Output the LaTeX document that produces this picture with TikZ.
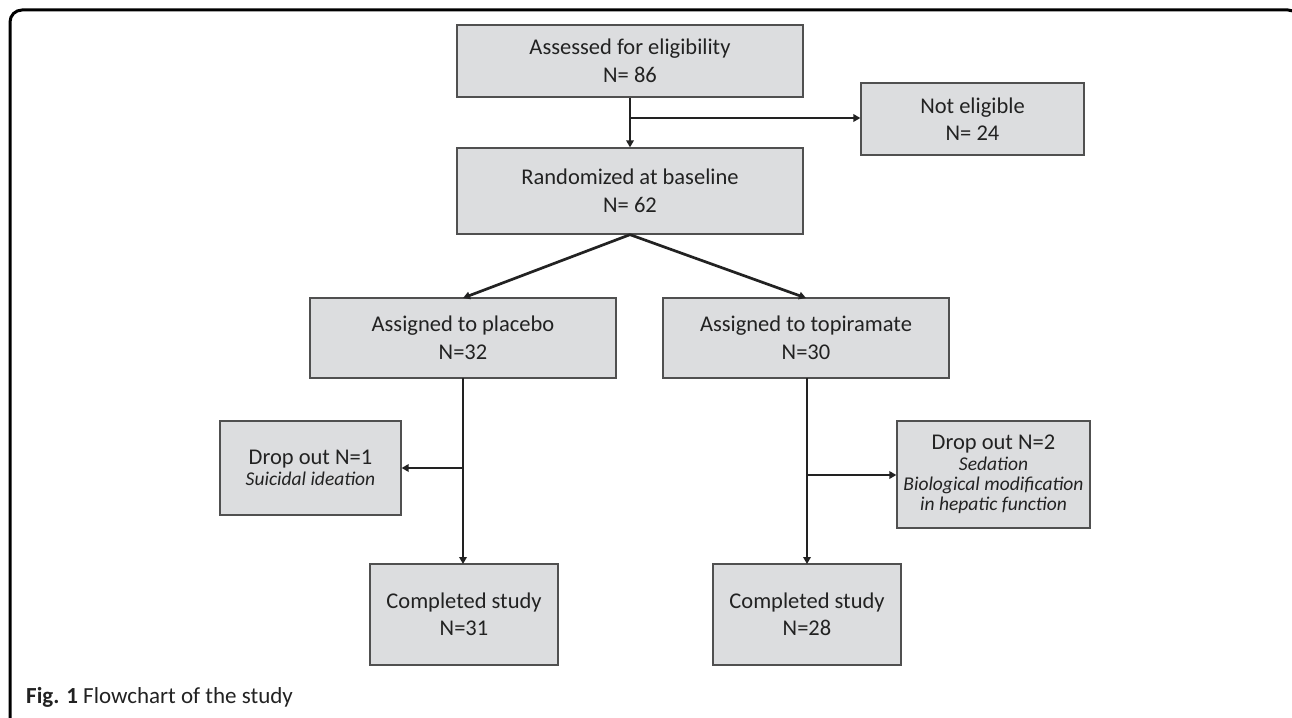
\documentclass[tikz,border=0pt]{standalone}
\usepackage{fontspec}
\setmainfont{Carlito}
\usetikzlibrary{arrows.meta}
\definecolor{boxfill}{HTML}{DCDDDF}
\definecolor{boxline}{HTML}{505050}
\definecolor{linecol}{HTML}{222222}
\tikzset{
  flowbox/.style={draw=boxline, line width=1.3pt, fill=boxfill, align=center, inner sep=0pt,
    font=\fontsize{22.5}{27.5}\selectfont, text=linecol},
  conn/.style={draw=linecol, line width=2.7pt, -{Triangle[length=7pt,width=7.5pt]}},
}
\newcommand{\smit}{\fontsize{19.5}{20}\selectfont\itshape}
\begin{document}
\begin{tikzpicture}[x=1pt,y=-1pt]
\useasboundingbox (0,0) rectangle (1292,717);
\fill[white] (0,0) rectangle (1292,717);
% frame
\begin{scope}
\clip (0,0) rectangle (1292,717);
\draw[line width=3pt, rounded corners=12pt] (40,740) -- (10,740) -- (10,10) -- (1300,10) -- (1300,40);
\end{scope}
% nodes
\node[flowbox, minimum width=346pt, minimum height=72pt] (assess) at (630,61) {Assessed for eligibility\\N= 86};
\node[flowbox, minimum width=223pt, minimum height=72pt] (noteli) at (972.5,119) {Not eligible\\N= 24};
\node[flowbox, minimum width=346pt, minimum height=86pt] (rand) at (630,191) {Randomized at baseline\\N= 62};
\node[flowbox, minimum width=306pt, minimum height=80pt] (plac) at (463,338) {Assigned to placebo\\N=32};
\node[flowbox, minimum width=286pt, minimum height=80pt] (topi) at (806,338) {Assigned to topiramate\\N=30};
\node[flowbox, minimum width=181pt, minimum height=94pt] (drop1) at (310.5,468) {Drop out N=1\\[-6.5pt]{\smit Suicidal ideation}};
\node[flowbox, minimum width=193pt, minimum height=107pt] (drop2) at (993.5,474.5) {Drop out N=2\\[-6.5pt]{\smit Sedation}\\[-7.5pt]{\smit Biological modification}\\[-7.5pt]{\smit in hepatic function}};
\node[flowbox, minimum width=188pt, minimum height=101pt] (comp1) at (464,614.5) {Completed study\\N=31};
\node[flowbox, minimum width=188pt, minimum height=101pt] (comp2) at (807,614.5) {Completed study\\N=28};
% connectors
\coordinate (b1) at (630,118);
\draw[conn] (assess.south) -- (rand.north);
\draw[conn] (b1) -- (noteli.west |- b1);
\coordinate (pl) at (463,298);
\coordinate (tp) at (806,298);
\draw[conn] (rand.south) -- (pl);
\draw[conn] (rand.south) -- (tp);
\coordinate (p1) at (463,378);
\coordinate (p2) at (463,564);
\draw[conn] (p1) -- (p2);
\coordinate (p3) at (463,468);
\draw[conn] (p3) -- (drop1.east |- p3);
\coordinate (t1) at (807,378);
\coordinate (t2) at (807,564);
\draw[conn] (t1) -- (t2);
\coordinate (t3) at (807,475);
\draw[conn] (t3) -- (drop2.west |- t3);
% caption
\node[anchor=base west, inner sep=0pt, font=\fontsize{23}{26}\selectfont, text=linecol] (cap) at (26,703) {\textbf{Fig. 1} Flowchart of the study};
\end{tikzpicture}
\end{document}
